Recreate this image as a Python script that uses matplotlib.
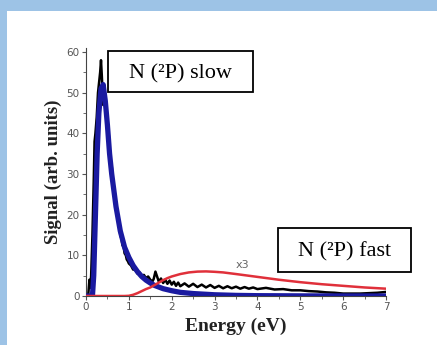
import matplotlib
matplotlib.use("Agg")
import matplotlib.pyplot as plt
from matplotlib.ticker import MultipleLocator

energy = [0.0, 0.05, 0.08, 0.1, 0.12, 0.15, 0.18, 0.2, 0.22, 0.25, 0.28, 0.3, 0.33, 0.35,
          0.37, 0.4, 0.42, 0.45, 0.48, 0.5, 0.53, 0.55, 0.58, 0.6, 0.63, 0.65, 0.68, 0.7,
          0.73, 0.75, 0.78, 0.8, 0.83, 0.85, 0.88, 0.9, 0.93, 0.95, 0.98, 1.0, 1.05, 1.1,
          1.15, 1.2, 1.25, 1.3, 1.35, 1.4, 1.45, 1.5, 1.55, 1.58, 1.62, 1.7, 1.75, 1.8,
          1.85, 1.9, 1.95, 2.0, 2.05, 2.1, 2.15, 2.2, 2.3, 2.4, 2.5, 2.6, 2.7, 2.8, 2.9,
          3.0, 3.1, 3.2, 3.3, 3.4, 3.5, 3.6, 3.7, 3.8, 3.9, 4.0, 4.2, 4.4, 4.6, 4.8, 5.0,
          5.2, 5.4, 5.6, 5.8, 6.0, 6.2, 6.4, 6.6, 6.8, 7.0]
signal = [0.0, 0.0, 4.0, 2.0, 5.0, 15.0, 28.0, 38.0, 40.0, 44.0, 50.0, 52.0, 55.0, 58.0,
          54.0, 47.0, 52.0, 46.0, 44.0, 43.0, 40.0, 36.0, 33.0, 32.0, 28.0, 27.0, 24.0, 22.0,
          20.0, 19.0, 17.0, 15.0, 14.0, 12.5, 12.0, 10.5, 10.0, 9.0, 8.5, 8.0, 7.5, 6.5,
          6.5, 5.5, 5.8, 4.8, 5.2, 4.4, 4.8, 4.0, 3.6, 4.2, 6.0, 3.5, 4.3, 3.2,
          4.0, 3.0, 3.8, 2.8, 3.5, 2.5, 3.3, 2.4, 3.1, 2.3, 3.0, 2.2, 2.8, 2.1, 2.7,
          2.0, 2.5, 1.9, 2.4, 1.9, 2.3, 1.8, 2.2, 1.8, 2.1, 1.7, 2.0, 1.6, 1.7, 1.4, 1.4,
          1.2, 1.1, 0.9, 0.8, 0.6, 0.6, 0.6, 0.7, 0.8, 1.0]

# slow component fit (blue)
slow_e = [0.0, 0.15, 0.18, 0.22, 0.26, 0.3, 0.35, 0.4, 0.45, 0.5, 0.55, 0.6, 0.7, 0.8,
          0.9, 1.0, 1.1, 1.2, 1.3, 1.4, 1.5, 1.6, 1.8, 2.0, 2.2, 2.5, 3.0, 3.5, 4.0, 5.0,
          6.0, 7.0]
slow = [0.0, 0.0, 5.0, 20.0, 35.0, 45.0, 51.0, 52.0, 48.0, 42.0, 35.0, 30.0, 22.0, 16.0,
        12.0, 9.5, 7.5, 6.0, 4.8, 3.9, 3.2, 2.6, 1.8, 1.3, 0.9, 0.6, 0.3, 0.15, 0.08, 0.03,
        0.01, 0.0]

# fast component fit x3 (red)
fast_e = [0.0, 0.9, 1.0, 1.1, 1.2, 1.3, 1.4, 1.5, 1.6, 1.7, 1.8, 1.9, 2.0, 2.2, 2.4, 2.6,
          2.8, 3.0, 3.2, 3.5, 4.0, 4.5, 5.0, 5.5, 6.0, 6.5, 7.0]
fast = [0.0, 0.0, 0.05, 0.3, 0.7, 1.2, 1.7, 2.1, 2.7, 3.3, 3.9, 4.4, 4.8, 5.4, 5.8, 6.0,
        6.05, 5.95, 5.8, 5.4, 4.7, 4.0, 3.4, 2.9, 2.5, 2.1, 1.8]

W, H = 437, 345
fig = plt.figure(figsize=(W / 100, H / 100), dpi=100)
# light blue frame around the white panel
fig.patch.set_facecolor('#9dc3e6')
fig.patches.append(plt.Rectangle((7 / W, 0), 1, 1 - 11 / H, transform=fig.transFigure,
                                 facecolor='white', edgecolor='none', zorder=-5))

ax = fig.add_axes([86 / W, 1 - 296 / H, 300 / W, 248 / H])
ax.patch.set_alpha(0)
ax.plot(energy, signal, color='black', lw=1.8, zorder=2)
ax.plot(slow_e, slow, color='#1a1aa0', lw=3.8, zorder=3)
ax.plot(fast_e, fast, color='#e0303a', lw=1.8, zorder=4)

ax.set_xlim(0, 7)
ax.set_ylim(0, 61)
for s in ['top', 'right']:
    ax.spines[s].set_visible(False)
for s in ['left', 'bottom']:
    ax.spines[s].set_color('#444444')
    ax.spines[s].set_linewidth(0.8)
ax.xaxis.set_major_locator(MultipleLocator(1))
ax.xaxis.set_minor_locator(MultipleLocator(0.5))
ax.yaxis.set_major_locator(MultipleLocator(10))
ax.yaxis.set_minor_locator(MultipleLocator(5))
ax.tick_params(which='both', direction='out', colors='#555555', labelsize=7.5, pad=1.5)
ax.tick_params(which='major', length=3)
ax.tick_params(which='minor', length=2)

ax.set_xlabel('Energy (eV)', family='Liberation Serif', fontweight='bold', fontsize=14,
              color='#222222', labelpad=4)
ax.set_ylabel('Signal (arb. units)', family='Liberation Serif', fontweight='bold', fontsize=13.5,
              color='#222222', labelpad=3)

# label boxes, placed in figure pixels as in the picture
for (x0, y0, x1, y1), label in [((108, 51, 253, 92), 'N (²P) slow'),
                                ((278, 228, 411, 272), 'N (²P) fast')]:
    fig.patches.append(plt.Rectangle((x0 / W, 1 - y1 / H), (x1 - x0) / W, (y1 - y0) / H,
                                     transform=fig.transFigure, facecolor='white',
                                     edgecolor='black', lw=1.3, zorder=5))
    fig.text((x0 + x1) / 2 / W, 1 - ((y0 + y1) / 2 + 2) / H, label, family='Liberation Serif',
             fontsize=16, ha='center', va='center', zorder=6)

ax.text(3.65, 7.6, 'x3', fontsize=8, color='#666666', ha='center', va='center')

fig.savefig('out.png', dpi=100, facecolor=fig.get_facecolor())
